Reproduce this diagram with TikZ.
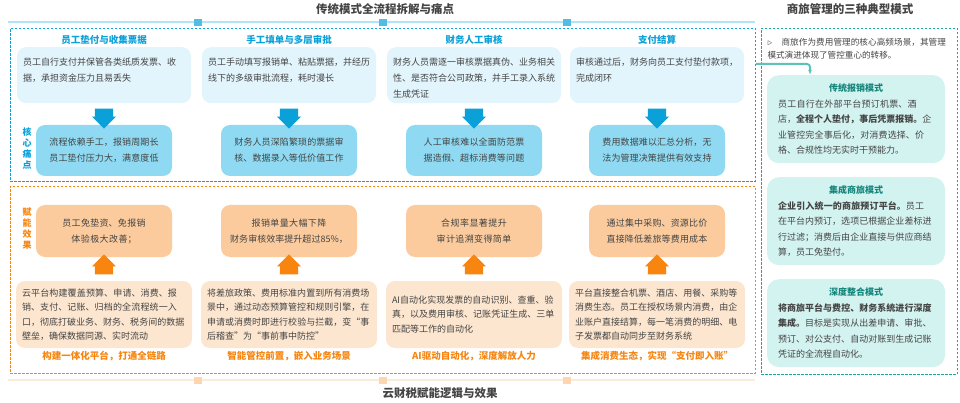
\documentclass[tikz,border=0pt]{standalone}
\usepackage{fontspec}
\setmainfont{Noto Sans CJK SC}
\XeTeXlinebreaklocale "zh"
\XeTeXlinebreakskip=0pt plus 0.3pt
\usepackage{tikz}
\usetikzlibrary{calc,positioning,shapes.arrows,arrows.meta}
\definecolor{tblue}{HTML}{0AA0D8}
\definecolor{lblue}{HTML}{E3F5FC}
\definecolor{mblue}{HTML}{8FDAF2}
\definecolor{torange}{HTML}{F7850F}
\definecolor{lorange}{HTML}{FDE6CF}
\definecolor{morange}{HTML}{FBCB9D}
\definecolor{tteal}{HTML}{1AA89B}
\definecolor{lteal}{HTML}{D3F3F0}
\definecolor{tgray}{HTML}{444444}
\newcommand{\toptext}[1]{\parbox[t][42pt][t]{162pt}{\vspace*{4pt}\raggedright #1}}
\tikzstyle{frame} = [draw, dashed, line width=0.9pt, dash pattern=on 2.5pt off 1.5pt]
\tikzstyle{upper} = [fill=lblue, rounded corners=9pt, minimum height=56pt, anchor=north, inner sep=6pt, text=tgray, font=\fontsize{9}{16}\selectfont]
\tikzstyle{pain} = [fill=mblue, rounded corners=9pt, text width=122pt, minimum width=136pt, minimum height=51pt, align=center, text=tgray, font=\fontsize{9}{16}\selectfont]
\tikzstyle{gain} = [fill=morange, rounded corners=9pt, text width=122pt, minimum width=136pt, minimum height=52pt, align=center, text=tgray, font=\fontsize{9}{16}\selectfont]
\tikzstyle{lower} = [fill=lorange, rounded corners=9pt, text width=164pt, minimum height=67pt, align=left, inner sep=6pt, text=tgray, font=\fontsize{9}{14.5}\selectfont]
\tikzstyle{mode} = [fill=lteal, rounded corners=12pt, text width=156pt, minimum width=178pt, minimum height=88pt, align=left, inner sep=7pt, text=tgray, font=\fontsize{9}{15.5}\selectfont]
\tikzstyle{ctitle} = [font=\fontsize{9.5}{10}\selectfont\bfseries]
\tikzstyle{darr} = [single arrow, shape border rotate=270, fill=tblue, minimum width=24pt, single arrow head extend=1pt, minimum height=20pt, inner sep=3pt]
\tikzstyle{uarr} = [single arrow, shape border rotate=90, fill=torange, minimum width=24pt, single arrow head extend=1pt, minimum height=20pt, inner sep=3pt]
\begin{document}
\begin{tikzpicture}[x=1pt, y=-1pt]
    \useasboundingbox (0,0) rectangle (960,403);
    % titles and rails
    \node [font=\fontsize{11.5}{13}\selectfont\bfseries, text=tgray] (ttop) at (385,9) {传统模式全流程拆解与痛点};
    \node [font=\fontsize{11.5}{13}\selectfont\bfseries, text=tgray] (tright) at (850,9) {商旅管理的三种典型模式};
    \node [font=\fontsize{11.5}{13}\selectfont\bfseries, text=tgray] (tbot) at (440,393) {云财税赋能逻辑与效果};
    \draw [line width=2.5pt, color=mblue!70] (8,22) -- (755,22);
    \draw [line width=2.5pt, color=lorange!80] (8,380) -- (755,380);
    \foreach \x in {198,383,567} {
        \fill [tblue!70] (\x-4,19) rectangle (\x+4,26);
        \fill [morange!80] (\x-4,377) rectangle (\x+4,384);
    }
    % frames
    \node [frame, color=tblue, minimum width=745pt, minimum height=153pt, anchor=north west] (pframe) at (10,28) {};
    \node [frame, color=torange, minimum width=745pt, minimum height=187pt, anchor=north west] (gframe) at (10,186) {};
    \node [frame, color=tteal, minimum width=196pt, minimum height=346pt, anchor=north west] (mframe) at (761,28) {};
    \node [text=tblue, font=\fontsize{9}{11}\selectfont\bfseries, align=center] (lpain) at (27,149) {核\\心\\痛\\点};
    \node [text=torange, font=\fontsize{9}{11}\selectfont\bfseries, align=center] (lgain) at (27,229) {赋\\能\\效\\果};
    % four columns
    \foreach \i/\cx/\t/\a/\b/\c/\d/\e in {
        1/104/员工垫付与收集票据/员工自行支付并保管各类纸质发票、收据，承担资金压力且易丢失/流程依赖手工，报销周期长\\员工垫付压力大，满意度低/员工免垫资、免报销\\体验极大改善；/云平台构建覆盖预算、申请、消费、报销、支付、记账、归档的全流程统一入口，彻底打破业务、财务、税务间的数据壁垒，确保数据同源、实时流动/构建一体化平台，打通全链路,
        2/289/手工填单与多层审批/员工手动填写报销单、粘贴票据，并经历线下的多级审批流程，耗时漫长/财务人员深陷繁琐的票据审核、数据录入等低价值工作/报销单量大幅下降\\财务审核效率提升超过85\%，/将差旅政策、费用标准内置到所有消费场景中，通过动态预算管控和规则引擎，在申请或消费时即进行校验与拦截，变“事后稽查”为“事前事中防控”/智能管控前置，嵌入业务场景,
        3/474/财务人工审核/财务人员需逐一审核票据真伪、业务相关性、是否符合公司政策，并手工录入系统生成凭证/人工审核难以全面防范票据造假、超标消费等问题/合规率显著提升\\审计追溯变得简单/AI自动化实现发票的自动识别、查重、验真，以及费用审核、记账凭证生成、三单匹配等工作的自动化/AI驱动自动化，深度解放人力,
        4/657/支付结算/审核通过后，财务向员工支付垫付款项，完成闭环/费用数据难以汇总分析，无法为管理决策提供有效支持/通过集中采购、资源比价\\直接降低差旅等费用成本/平台直接整合机票、酒店、用餐、采购等消费生态。员工在授权场景内消费，由企业账户直接结算，每一笔消费的明细、电子发票都自动同步至财务系统/集成消费生态，实现“支付即入账”} {
        \node [ctitle, text=tblue] (col\i) at (\cx,40) {\t};
        \node [upper] (step\i) at (\cx,47) {\toptext{\a}};
        \node [pain] (pain\i) at (\cx,150.5) {\b};
        \node [darr] (down\i) at ($(step\i.south)!0.5!(pain\i.north)$) {};
        \node [lower] (act\i) at (\cx,314.5) {\d};
        \node [gain] (gain\i) at (\cx,231) {\c};
        \node [uarr] (up\i) at ($(act\i.north)!0.5!(gain\i.south)$) {};
        \node [ctitle, text=torange] (res\i) at (\cx,356) {\e};
    }
    % right panel
    \node [text width=182pt, align=left, text=tgray, font=\fontsize{8.6}{13}\selectfont, anchor=north west] (intro) at (764,35) {\hangindent=14pt\hangafter=1\makebox[14pt][l]{$\triangleright$}商旅作为费用管理的核心高频场景，其管理模式演进体现了管控重心的转移。};
    \node [mode, anchor=north] (mode1) at (856,75) {\centering{\color{tteal!80!black}\bfseries 传统报销模式}\par\raggedright 员工自行在外部平台预订机票、酒店，{\bfseries 全程个人垫付，事后凭票报销。}企业管控完全事后化，对消费选择、价格、合规性均无实时干预能力。};
    \node [mode, anchor=north] (mode2) at (856,177) {\centering{\color{tteal!80!black}\bfseries 集成商旅模式}\par\raggedright {\bfseries 企业引入统一的商旅预订平台。}员工在平台内预订，选项已根据企业差标进行过滤；消费后由企业直接与供应商结算，员工免垫付。};
    \node [mode, anchor=north] (mode3) at (856,279) {\centering{\color{tteal!80!black}\bfseries 深度整合模式}\par\raggedright {\bfseries 将商旅平台与费控、财务系统进行深度集成。}目标是实现从出差申请、审批、预订、对公支付、自动对账到生成记账凭证的全流程自动化。};
    \coordinate (bend) at (mode1.north |- 0,64);
    \draw [color=tteal!70, line width=2pt, -{Latex[length=5pt]}, rounded corners=3pt] (pframe.east |- bend) -- ($(bend)+(-46,0)$) -- ($(mode1.north)+(-46,0)$);
\end{tikzpicture}
\end{document}
